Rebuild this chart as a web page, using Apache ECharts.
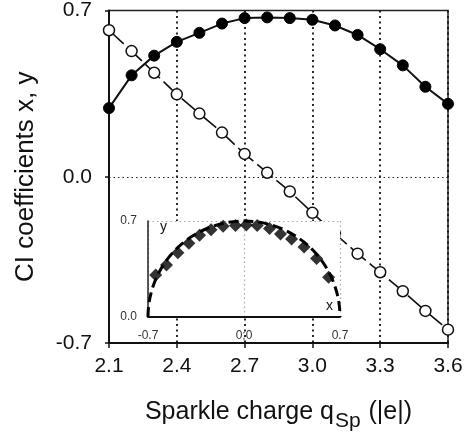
<!DOCTYPE html>
<html>
<head>
<meta charset="utf-8">
<script src="https://cdn.jsdelivr.net/npm/echarts@6/dist/echarts.min.js"></script>
<style>
html,body{margin:0;padding:0;background:#fff;}
#chart{width:471px;height:437px;}
</style>
</head>
<body>
<div id="chart"></div>
<script>
// Sparkle charge (|e|)
const charges = [2.1, 2.2, 2.3, 2.4, 2.5, 2.6, 2.7, 2.8, 2.9, 3.0, 3.1, 3.2, 3.3, 3.4, 3.5, 3.6];
// CI coefficient y (filled circles)
const coefY = [0.289, 0.427, 0.510, 0.568, 0.606, 0.645, 0.668, 0.671, 0.668, 0.661, 0.637, 0.597, 0.537, 0.469, 0.379, 0.307];
// CI coefficient x (open circles)
const coefX = [0.617, 0.529, 0.438, 0.347, 0.266, 0.186, 0.096, 0.017, -0.062, -0.152, -0.240, -0.324, -0.402, -0.482, -0.565, -0.644];
// main tick labels
const mainXTicks = ['2.1', '2.4', '2.7', '3.0', '3.3', '3.6'];
const mainYTicks = ['-0.7', '0.0', '0.7'];
// inset
const insetXTicks = ['-0.7', '0;0', '0.7'];
const insetYTicks = ['0.0', '0.7'];
const insetXRange = [-0.7, 0.7];
const insetYRange = [0, 0.7];
const arcCenter = [0, 0];
const arcRadius = 0.7;

const FONT = 'Liberation Sans';
const chart = echarts.init(document.getElementById('chart'), null, {renderer: 'canvas'});

const filledData = charges.map((c, i) => [c, coefY[i]]);
const openData = charges.map((c, i) => [c, coefX[i]]);
const insetPairs = coefX.map((x, i) => [x, coefY[i]]);

chart.setOption({
  animation: false,
  backgroundColor: '#fff',
  grid: [
    {left: 109, right: 23, top: 7, bottom: 90, show: true, borderColor: '#222', borderWidth: 1.5, backgroundColor: 'transparent'},
    {left: 148, right: 131, top: 221, bottom: 120, show: false}
  ],
  xAxis: [
    {
      gridIndex: 0, type: 'value', min: 2.1, max: 3.6, interval: 0.3,
      axisLine: {show: true, onZero: false, lineStyle: {color: '#111', width: 2}},
      axisTick: {show: true, length: 5, lineStyle: {color: '#111', width: 1.5}},
      axisLabel: {
        margin: 13, color: '#111', fontFamily: FONT, fontSize: 21,
        formatter: (v) => { const i = Math.round((v - 2.1) / 0.3); return mainXTicks[i]; }
      },
      splitLine: {show: true, lineStyle: {color: '#111', type: [2, 3.5], width: 1.8}},
      name: '{a|Sparkle charge q}{s|Sp}{a| (|e|)}',
      nameLocation: 'middle', nameGap: 52,
      nameTextStyle: {
        rich: {
          a: {fontFamily: FONT, fontSize: 25, color: '#111', verticalAlign: 'bottom', lineHeight: 30},
          s: {fontFamily: FONT, fontSize: 21, color: '#111', verticalAlign: 'bottom', lineHeight: 30, padding: [0, 1, -7, 1]}
        }
      }
    },
    {
      gridIndex: 1, type: 'value', min: insetXRange[0], max: insetXRange[1], interval: 0.7, z: 4,
      axisLine: {show: true, onZero: false, lineStyle: {color: '#111', width: 2}},
      axisTick: {show: false},
      axisLabel: {
        margin: 13, color: '#333', fontFamily: FONT, fontSize: 12,
        formatter: (v) => { const i = Math.round((v + 0.7) / 0.7); return insetXTicks[i]; }
      },
      splitLine: {show: true, lineStyle: {color: '#aaa', type: [1.5, 3], width: 1.2}},
      name: 'x', nameLocation: 'end', nameGap: -14,
      nameTextStyle: {fontFamily: FONT, fontSize: 14, color: '#111', verticalAlign: 'bottom', padding: [0, 0, 4, 0]}
    }
  ],
  yAxis: [
    {
      gridIndex: 0, type: 'value', min: -0.7, max: 0.7, interval: 0.7,
      axisLine: {show: true, onZero: false, lineStyle: {color: '#111', width: 2}},
      axisTick: {show: true, length: 4, lineStyle: {color: '#111', width: 1.5}},
      axisLabel: {
        margin: 17, color: '#111', fontFamily: FONT, fontSize: 21,
        formatter: (v) => { const i = Math.round((v + 0.7) / 0.7); return mainYTicks[i]; }
      },
      splitLine: {show: true, lineStyle: {color: '#222', type: [1.5, 3], width: 1}},
      name: 'CI coefficients x, y',
      nameLocation: 'middle', nameGap: 70,
      nameTextStyle: {fontFamily: FONT, fontSize: 26, color: '#111'}
    },
    {
      gridIndex: 1, type: 'value', min: insetYRange[0], max: insetYRange[1], interval: 0.7, z: 4,
      axisLine: {show: true, onZero: false, lineStyle: {color: '#222', width: 1.5}},
      axisTick: {show: false},
      axisLabel: {
        margin: 11, color: '#333', fontFamily: FONT, fontSize: 12,
        formatter: (v) => { const i = Math.round(v / 0.7); return insetYTicks[i]; }
      },
      splitLine: {show: true, lineStyle: {color: '#aaa', type: [1.5, 3], width: 1.2}},
      name: 'y', nameLocation: 'end', nameGap: -13,
      nameTextStyle: {fontFamily: FONT, fontSize: 14, color: '#111', align: 'left', padding: [0, 0, 0, 12]}
    }
  ],
  series: [
    {
      type: 'line', xAxisIndex: 0, yAxisIndex: 0, z: 2, data: openData,
      symbol: 'circle', symbolSize: 11,
      lineStyle: {color: '#111', width: 1.6, type: [20, 5]},
      itemStyle: {color: '#fff', borderColor: '#111', borderWidth: 1.5}
    },
    {
      type: 'line', xAxisIndex: 0, yAxisIndex: 0, z: 2, data: filledData,
      symbol: 'circle', symbolSize: 11,
      lineStyle: {color: '#111', width: 2},
      itemStyle: {color: '#000', borderColor: '#000', borderWidth: 1}
    },
    {
      type: 'custom', xAxisIndex: 1, yAxisIndex: 1, z: 3, silent: true, clip: false,
      data: [[insetXRange[0], insetYRange[0], insetXRange[1], insetYRange[1]]],
      renderItem: (params, api) => {
        const p1 = api.coord([api.value(0), api.value(1)]);
        const p2 = api.coord([api.value(2), api.value(3)]);
        return {type: 'rect', shape: {x: p1[0], y: p2[1], width: p2[0] - p1[0], height: p1[1] - p2[1]}, style: {fill: '#fff', stroke: null}};
      }
    },
    {
      type: 'custom', xAxisIndex: 1, yAxisIndex: 1, z: 5, silent: true, clip: false,
      data: [[arcCenter[0], arcCenter[1], arcRadius]],
      renderItem: (params, api) => {
        const c = api.coord([api.value(0), api.value(1)]);
        const r = api.size([api.value(2), 0])[0];
        return {type: 'arc', shape: {cx: c[0], cy: c[1], r: r, startAngle: Math.PI, endAngle: 2 * Math.PI, clockwise: true},
          style: {stroke: '#000', fill: null, lineWidth: 3, lineDash: [10, 5]}};
      }
    },
    {
      type: 'scatter', xAxisIndex: 1, yAxisIndex: 1, z: 6, data: insetPairs,
      symbol: 'diamond', symbolSize: 13,
      itemStyle: {color: '#000'}
    }
  ]
});
</script>
</body>
</html>
